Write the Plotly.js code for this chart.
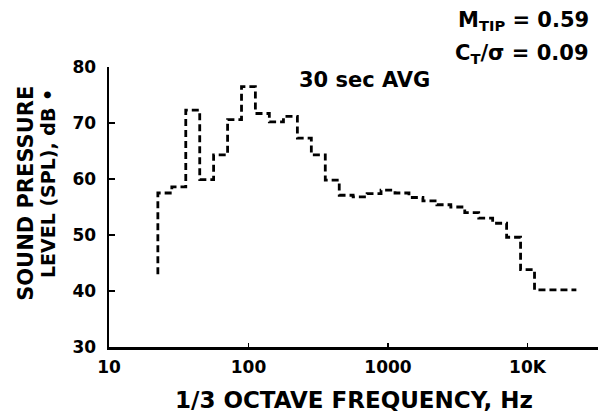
<!DOCTYPE html>
<html>
<head>
<meta charset="utf-8">
<script src="https://cdn.plot.ly/plotly-3.0.1.min.js"></script>
<style>html,body{margin:0;padding:0;background:#fff;}#chart{width:601px;height:420px;}</style>
</head>
<body>
<div id="chart"></div>
<script>
// 1/3-octave band lower edges (Hz), bands 25 Hz ... 20 kHz, plus final upper edge
const bandEdges = [22.4, 28.2, 35.5, 44.7, 56.2, 70.8, 89.1, 112, 141, 178, 224, 282, 355, 447, 562, 708, 891, 1122, 1413, 1778, 2239, 2818, 3548, 4467, 5623, 7079, 8913, 11220, 14125, 17783, 22387];
// band levels, dB (30 sec AVG)
const splLevels = [57.5, 58.6, 72.3, 59.9, 64.3, 70.6, 76.5, 71.7, 70.2, 71.2, 67.3, 64.3, 59.8, 57.1, 56.8, 57.4, 58.0, 57.5, 56.7, 56.1, 55.4, 55.0, 54.0, 53.0, 52.1, 49.6, 43.8, 40.2, 40.2, 40.2];
const startLevel = 43;

const xTickVals = [10, 100, 1000, 10000];
const xTickText = ['10', '100', '1000', '10K'];
const yTickVals = [30, 40, 50, 60, 70, 80];

// build the step trace
const xs = [bandEdges[0]].concat(bandEdges);
const ys = [startLevel].concat(splLevels).concat([splLevels[splLevels.length - 1]]);

const FAM = 'DejaVu Sans, Liberation Sans, Arial, sans-serif';
function f(size) { return {family: FAM, size: size, color: '#000', weight: 'bold'}; }

const trace = {
  x: xs, y: ys, type: 'scatter', mode: 'lines',
  line: {shape: 'hv', color: '#000', width: 2.8, dash: '7px,4px'},
  hoverinfo: 'skip'
};

const layout = {
  width: 601, height: 420,
  margin: {l: 109, r: 3, t: 67, b: 73},
  paper_bgcolor: '#fff', plot_bgcolor: '#fff',
  showlegend: false,
  xaxis: {
    type: 'log', range: [1, 4.505], showgrid: false, zeroline: false,
    showline: true, linecolor: '#000', linewidth: 2.5,
    tickmode: 'array', tickvals: xTickVals, ticktext: xTickText,
    ticks: 'inside', ticklen: 4, tickwidth: 1.5, tickcolor: '#000',
    tickfont: f(17), ticklabelstandoff: 3
  },
  yaxis: {
    range: [30, 80], showgrid: false, zeroline: false,
    showline: true, linecolor: '#000', linewidth: 2.5,
    tickmode: 'array', tickvals: yTickVals,
    ticks: 'inside', ticklen: 6, tickwidth: 2, tickcolor: '#000',
    tickfont: f(17), ticklabelstandoff: 7
  },
  annotations: [
    {text: 'SOUND PRESSURE', textangle: -90, xref: 'paper', yref: 'paper',
     x: -0.17, y: 0.55, xanchor: 'center', yanchor: 'middle', showarrow: false,
     font: f(21)},
    {text: 'LEVEL (SPL), dB •', textangle: -90, xref: 'paper', yref: 'paper',
     x: -0.125, y: 0.585, xanchor: 'center', yanchor: 'middle', showarrow: false,
     font: f(19)},
    {text: '1/3 OCTAVE FREQUENCY, Hz', xref: 'paper', yref: 'paper',
     x: 0.5, y: -0.19, xanchor: 'center', yanchor: 'middle', showarrow: false,
     font: f(23)},
    {text: '30 sec AVG', xref: 'paper', yref: 'paper',
     x: 0.385, y: 0.955, xanchor: 'left', yanchor: 'middle', showarrow: false,
     font: f(21)},
    {text: 'M<sub>TIP</sub> = 0.59', xref: 'paper', yref: 'paper',
     x: 0.985, y: 1.165, xanchor: 'right', yanchor: 'middle', showarrow: false,
     font: f(21)},
    {text: 'C<sub>T</sub>/σ = 0.09', xref: 'paper', yref: 'paper',
     x: 0.985, y: 1.045, xanchor: 'right', yanchor: 'middle', showarrow: false,
     font: f(21)}
  ]
};

Plotly.newPlot('chart', [trace], layout, {staticPlot: true, displayModeBar: false});
</script>
</body>
</html>
